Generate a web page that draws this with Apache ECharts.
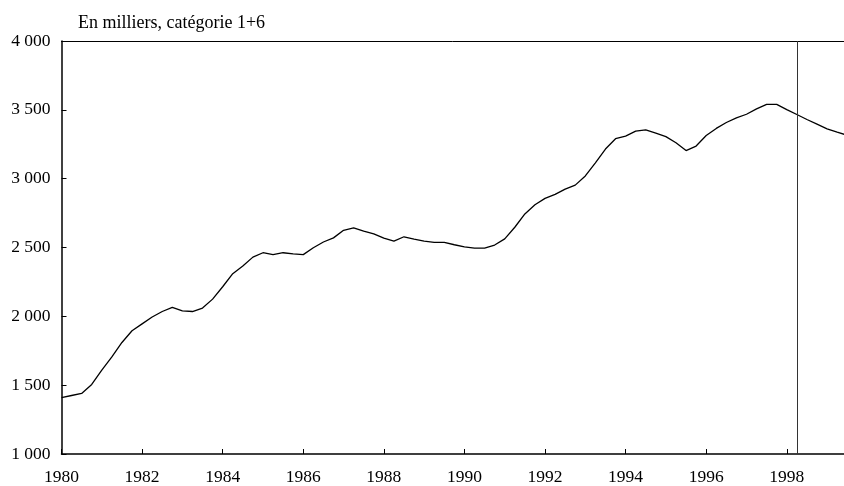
<!DOCTYPE html>
<html>
<head>
<meta charset="utf-8">
<script src="https://cdn.jsdelivr.net/npm/echarts@6/dist/echarts.min.js"></script>
<style>html,body{margin:0;padding:0;background:#fff}#c{width:844px;height:486px}</style>
</head>
<body>
<div id="c"></div>
<script>
var unitLabel = 'En milliers, catégorie 1+6';
var startYear = 1980;      // first quarter
var quarterStep = 0.25;
var values = [
  1410, 1425, 1440, 1505, 1610, 1705, 1810, 1895,
  1945, 1995, 2035, 2065, 2040, 2035, 2060, 2125,
  2215, 2310, 2365, 2430, 2462, 2448, 2462, 2453,
  2448, 2498, 2540, 2570, 2625, 2643, 2619, 2599,
  2568, 2546, 2578, 2561, 2546, 2537, 2537, 2520,
  2505, 2496, 2496, 2518, 2563, 2647, 2744, 2811,
  2857, 2886, 2924, 2953, 3020, 3115, 3215, 3290,
  3309, 3345, 3355, 3331, 3305, 3261, 3204, 3237,
  3314, 3365, 3408, 3442, 3468, 3507, 3540, 3540,
  3502, 3466, 3430, 3396, 3362, 3338, 3315
];
var verticalMarker = 1998.27;
var xMin = 1980, xMax = 1999.42, xInterval = 2;
var yMin = 1000, yMax = 4000, yInterval = 500;

var seriesData = values.map(function (v, i) { return [startYear + i * quarterStep, v]; });

function fmtThousands(v) {
  var s = String(Math.round(v));
  return s.replace(/\B(?=(\d{3})+(?!\d))/g, ' ');
}

var font = 'Liberation Serif, Times New Roman, serif';
var chart = echarts.init(document.getElementById('c'), null, {renderer: 'canvas'});
chart.setOption({
  animation: false,
  backgroundColor: '#fff',
  title: {
    text: unitLabel, left: 73, top: 9,
    textStyle: {fontFamily: font, fontSize: 18, fontWeight: 'normal', color: '#000'}
  },
  grid: {left: 61.5, right: 0, top: 41, bottom: 29.5, containLabel: false},
  xAxis: [{
    type: 'value', min: xMin, max: xMax, interval: xInterval,
    axisLine: {show: true, lineStyle: {color: '#000', width: 1.5}},
    axisTick: {show: true, inside: true, length: 5, lineStyle: {color: '#000', width: 1}},
    splitLine: {show: false},
    axisLabel: {
      showMaxLabel: false, margin: 14, color: '#000', fontFamily: font, fontSize: 17.5,
      formatter: function (v) { return (Math.abs(v % 2) < 1e-6) ? String(v) : ''; }
    }
  }, {
    type: 'value', position: 'top', min: xMin, max: xMax,
    axisLine: {show: true, onZero: false, lineStyle: {color: '#000', width: 1}},
    axisTick: {show: false}, axisLabel: {show: false}, splitLine: {show: false}
  }],
  yAxis: {
    type: 'value', min: yMin, max: yMax, interval: yInterval,
    axisLine: {show: true, lineStyle: {color: '#000', width: 1.5}},
    axisTick: {show: true, inside: true, length: 5, lineStyle: {color: '#000', width: 1}},
    splitLine: {show: false},
    axisLabel: {margin: 11, color: '#000', fontFamily: font, fontSize: 17.5, formatter: fmtThousands,
      padding: [0, 0, 5, 0]}
  },
  series: [{
    type: 'line', data: seriesData, showSymbol: false, symbol: 'none',
    lineStyle: {color: '#000', width: 1.3}, clip: true,
    markLine: {
      silent: true, symbol: ['none', 'none'], label: {show: false},
      lineStyle: {color: '#333', width: 1, type: 'solid'},
      data: [{xAxis: verticalMarker}]
    }
  }]
});
</script>
</body>
</html>
